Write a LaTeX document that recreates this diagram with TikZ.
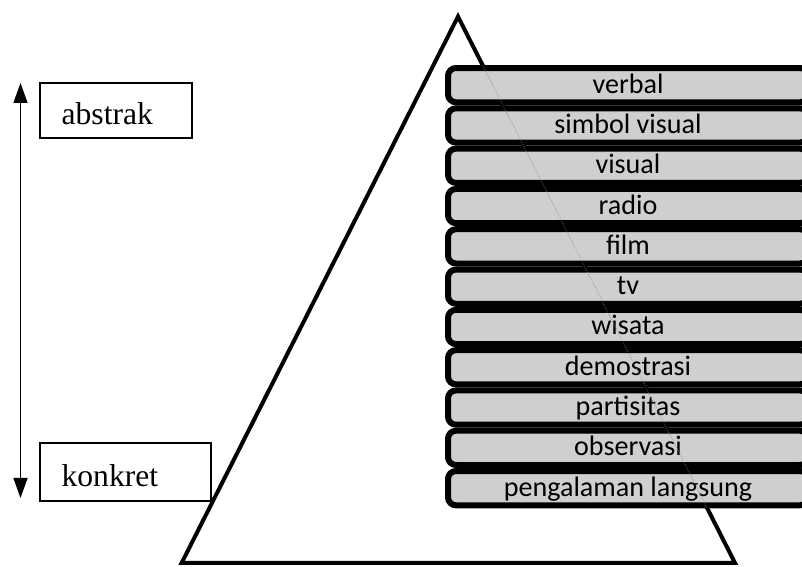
\documentclass[tikz,border=0pt]{standalone}
\usepackage{fontspec}
\setmainfont{Liberation Serif}
\newfontfamily\stufenschrift{Carlito}
\usetikzlibrary{arrows.meta,calc,positioning}

\tikzset{
  stufe/.style={draw=black,line width=0.15cm,rounded corners=0.2cm,fill=black!19,
    minimum width=9cm,minimum height=0.8575cm,inner sep=0pt,
    text height=0.4cm,text depth=0cm,font=\stufenschrift\fontsize{20}{24}\selectfont},
  etikett/.style={draw=black,line width=1pt,inner xsep=0.54cm,inner ysep=0pt,align=left,
    text height=0.725cm,text depth=0cm,font=\fontsize{22.5}{26}\selectfont},
}

\begin{document}
\begin{tikzpicture}
%Abstand der Stufen und Lage der obersten Stufe
  \pgfmathsetmacro{\abstand}{1.0075}
  \pgfmathsetmacro{\stufex}{15.7}
  \pgfmathsetmacro{\stufey}{12.046}
\clip (0,0) rectangle (20.05,14.175);
%Dreieck
\coordinate (spitze) at (11.45,13.76);
\coordinate (links) at (4.54,0.1);
\coordinate (rechts) at (18.375,0.1);
\draw[line width=0.1cm,line join=miter] (links) -- (spitze) -- (rechts) -- cycle;
%Stufen von oben nach unten
\foreach \name [count=\i from 0] in {verbal,simbol visual,visual,radio,film,tv,wisata,demostrasi,partisitas,observasi,pengalaman langsung}{
\node[stufe] (stufe\i) at (\stufex,\stufey-\i*\abstand) {\name};
}
\draw[black!45,densely dotted,line width=0.5pt] ($(spitze)!0.089!(rechts)$) -- ($(spitze)!0.899!(rechts)$);
%Beschriftung links
\node[etikett,text width=2.72cm,minimum height=1.375cm] (abstrak) at (2.9,11.4125) {abstrak};
\node[etikett,text width=3.195cm,minimum height=1.45cm] (konkret) at (3.1375,2.375) {konkret};
\coordinate (oben) at (0.5125,12.1);
\coordinate (unten) at (0.5125,1.725);
\draw[line width=1pt,{Triangle[width=0.35cm,length=0.5cm]}-{Triangle[width=0.35cm,length=0.5cm]}] (oben) -- (unten);
\end{tikzpicture}
\end{document}
